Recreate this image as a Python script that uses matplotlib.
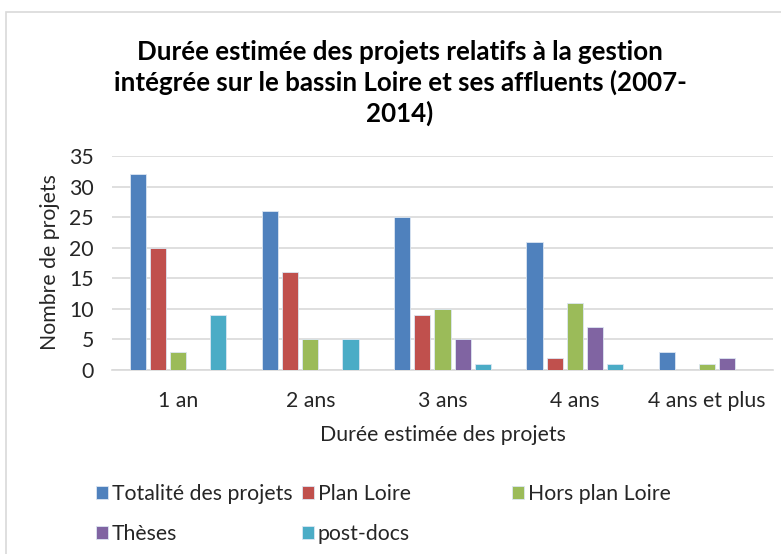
import matplotlib
matplotlib.use('Agg')
import matplotlib.pyplot as plt
from matplotlib.patches import Rectangle
import numpy as np

plt.rcParams['font.family'] = ['Lato', 'DejaVu Sans']

categories = ['1 an', '2 ans', '3 ans', '4 ans', '4 ans et plus']
series_names = ['Totalité des projets', 'Plan Loire', 'Hors plan Loire', 'Thèses', 'post-docs']
totalite = [32, 26, 25, 21, 3]
plan_loire = [20, 16, 9, 2, 0]
hors_plan = [3, 5, 10, 11, 1]
theses = [0, 0, 5, 7, 2]
post_docs = [9, 5, 1, 1, 0]
colors = ['#4F81BD', '#C0504D', '#9BBB59', '#8064A2', '#4BACC6']

fs = 15.3

fig = plt.figure(figsize=(7.81, 5.54), dpi=100)
ax = fig.add_axes([112/781, 1-370/554, (773-112)/781, (370-156)/554])

# light frame round the whole chart (right / bottom cut off as in the source)
fig.patches.append(Rectangle((6/781, -0.1), 1.2, 1 - 12/554 + 0.1, transform=fig.transFigure,
                             facecolor='none', edgecolor='#d9d9d9', lw=1.2))

x = np.arange(len(categories))
pitch = 0.152
width = 0.122
handles = []
for i, (vals, c) in enumerate(zip([totalite, plan_loire, hors_plan, theses, post_docs], colors)):
    b = ax.bar(x + (i - 2) * pitch, vals, width, color=c, edgecolor='#dce6f2', linewidth=0.6,
               label=series_names[i], zorder=3)
    handles.append(b)

ax.set_xlim(-0.5, len(categories) - 0.5)
ax.set_ylim(0, 35)
ax.set_yticks(range(0, 36, 5))
ax.set_xticks(x)
ax.set_xticklabels(categories)
ax.grid(axis='y', color='#d9d9d9', linewidth=1.2, zorder=0)
for s in ['top', 'right', 'left']:
    ax.spines[s].set_visible(False)
ax.spines['bottom'].set_color('#d9d9d9')
ax.spines['bottom'].set_linewidth(1.2)
ax.tick_params(axis='both', length=0, labelsize=fs, colors='#262626')
ax.tick_params(axis='y', pad=13)
ax.tick_params(axis='x', pad=15)

fig.text(400/781, 1-83/554, 'Durée estimée des projets relatifs à la gestion\n'
         'intégrée sur le bassin Loire et ses affluents (2007-\n2014)',
         ha='center', va='center', fontsize=18.6, fontweight='bold', linespacing=1.27,
         color='#000000')
fig.text(443/781, 1-435/554, 'Durée estimée des projets', ha='center', va='center',
         fontsize=fs, color='#262626')
fig.text(50/781, 1-262/554, 'Nombre de projets', ha='center', va='center', rotation=90,
         fontsize=fs, color='#262626')

# legend laid out in fixed columns like the original
cols = [([0, 3], 96), ([1, 4], 302), ([2], 512)]
for idx, xpix in cols:
    leg = fig.legend([handles[k] for k in idx], [series_names[k] for k in idx],
                     loc='upper left', bbox_to_anchor=(xpix/781, 1-484/554),
                     frameon=False, fontsize=fs, handlelength=0.55, handleheight=0.55,
                     handletextpad=0.2, labelspacing=0.95, borderpad=0, borderaxespad=0)
    for t in leg.get_texts():
        t.set_color('#262626')

fig.savefig('out.png', dpi=100)
